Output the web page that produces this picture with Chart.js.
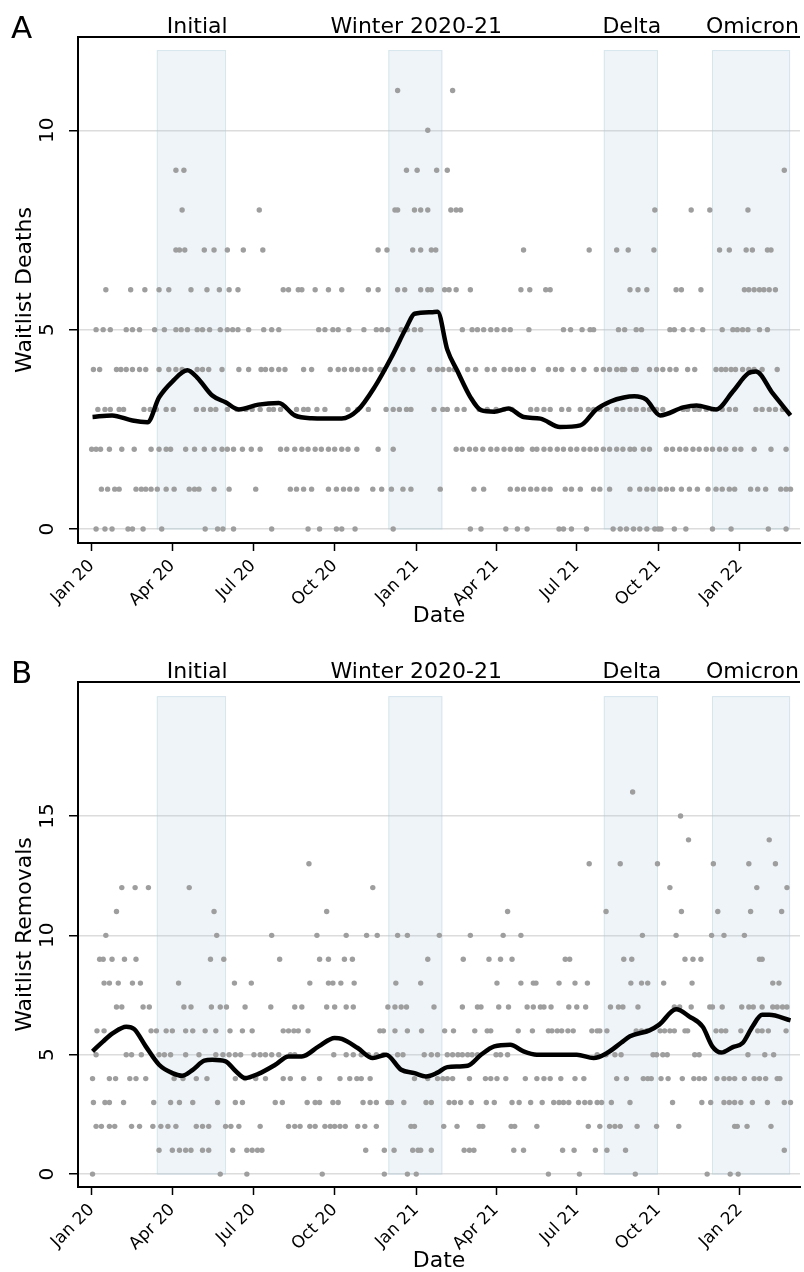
<!DOCTYPE html>
<html lang="en">
<head>
<meta charset="UTF-8">
<title>Waitlist deaths and removals</title>
<script src="https://cdn.jsdelivr.net/npm/chart.js"></script>
<style>
  body { margin: 0; background: #fff; }
  canvas { display: block; }
</style>
</head>
<body>
<canvas id="deathsChart" width="804" height="636"></canvas>
<canvas id="removalsChart" width="804" height="636"></canvas>
<script>
// days are counted from 1 Jan 2020
const tickDays = [0, 91, 182, 274, 366, 456, 547, 639, 731];
const tickLabels = ['Jan 20', 'Apr 20', 'Jul 20', 'Oct 20', 'Jan 21', 'Apr 21', 'Jul 21', 'Oct 21', 'Jan 22'];

const waveNames = ['Initial', 'Winter 2020-21', 'Delta', 'Omicron'];
const waveStart = [74, 335, 578, 700];
const waveEnd = [151, 395, 638, 787];
const waveLabelDay = [119, 366, 609, 745];

// daily waitlist deaths: one list of days per count (index = deaths that day)
const deathDays = [
  [5, 15, 23, 41, 46, 58, 79, 128, 142, 148, 160, 203, 244, 257, 276, 282, 297, 340, 427, 439, 467, 480, 491, 527, 532, 541, 558, 588, 596, 603, 611, 618, 626, 635, 639, 642, 657, 670, 700, 721, 763, 783],
  [11, 18, 26, 31, 50, 56, 61, 67, 74, 84, 93, 110, 116, 121, 138, 155, 185, 224, 231, 239, 248, 267, 276, 284, 291, 299, 317, 327, 338, 351, 360, 393, 431, 442, 472, 480, 487, 495, 502, 510, 517, 534, 541, 551, 566, 573, 584, 607, 618, 626, 633, 641, 648, 655, 665, 674, 683, 695, 704, 711, 719, 725, 743, 751, 760, 777, 783, 788],
  [0, 5, 10, 20, 34, 48, 67, 76, 84, 89, 106, 116, 127, 138, 147, 153, 160, 170, 180, 190, 213, 220, 229, 237, 244, 252, 259, 267, 274, 282, 289, 299, 323, 340, 411, 418, 426, 433, 441, 450, 457, 465, 472, 480, 485, 497, 502, 510, 517, 525, 532, 540, 547, 555, 562, 569, 577, 584, 592, 599, 607, 612, 622, 629, 648, 655, 663, 670, 678, 685, 693, 700, 708, 715, 725, 732, 747, 766, 783],
  [7, 15, 21, 31, 36, 59, 66, 73, 84, 92, 118, 126, 134, 140, 153, 164, 174, 181, 190, 200, 205, 213, 231, 239, 244, 254, 263, 289, 300, 312, 332, 340, 347, 355, 360, 386, 396, 401, 412, 420, 437, 446, 456, 465, 474, 495, 502, 510, 517, 530, 538, 551, 560, 566, 573, 581, 592, 599, 607, 614, 622, 629, 637, 644, 667, 672, 680, 685, 693, 700, 711, 719, 726, 749, 756, 764, 771, 779],
  [2, 9, 28, 33, 39, 46, 54, 61, 76, 87, 95, 102, 119, 125, 132, 147, 166, 177, 191, 196, 203, 211, 218, 239, 248, 269, 278, 285, 293, 300, 308, 315, 325, 330, 342, 351, 362, 381, 390, 396, 403, 409, 424, 433, 446, 454, 465, 472, 480, 487, 498, 515, 523, 530, 543, 555, 569, 577, 584, 592, 598, 601, 611, 614, 629, 637, 644, 652, 659, 672, 680, 704, 710, 715, 721, 726, 734, 741, 747, 756, 773],
  [5, 13, 21, 39, 46, 54, 71, 82, 95, 101, 108, 119, 125, 133, 145, 153, 159, 165, 177, 194, 203, 211, 256, 263, 272, 278, 290, 307, 321, 327, 334, 349, 356, 364, 371, 418, 429, 435, 442, 450, 457, 465, 472, 493, 532, 540, 553, 562, 566, 594, 601, 614, 620, 652, 657, 667, 677, 689, 711, 723, 728, 734, 740, 753, 762],
  [16, 44, 60, 76, 87, 112, 130, 144, 155, 165, 216, 222, 233, 237, 252, 267, 282, 312, 323, 345, 353, 371, 379, 383, 398, 403, 411, 427, 484, 494, 512, 517, 607, 616, 626, 659, 665, 687, 736, 741, 747, 753, 758, 764, 771],
  [95, 99, 105, 127, 138, 153, 171, 193, 323, 333, 362, 371, 383, 388, 487, 561, 592, 605, 634, 708, 719, 738, 745, 762, 766],
  [102, 189, 342, 345, 364, 371, 379, 405, 411, 416, 635, 676, 697, 740],
  [95, 104, 355, 367, 389, 401, 781],
  [379],
  [345, 407]
];
const deathTrendDays = [1, 23, 46, 63, 76, 91, 108, 119, 136, 151, 166, 188, 211, 229, 248, 282, 300, 319, 338, 355, 364, 383, 390, 401, 412, 427, 439, 454, 470, 487, 506, 528, 551, 569, 585, 600, 612, 625, 641, 667, 682, 704, 723, 740, 749, 768, 788];
const deathTrend = [2.81, 2.85, 2.72, 2.68, 3.3, 3.7, 3.98, 3.8, 3.35, 3.18, 3.0, 3.12, 3.16, 2.85, 2.78, 2.77, 2.98, 3.56, 4.31, 5.06, 5.4, 5.44, 5.45, 4.5, 3.98, 3.31, 2.98, 2.94, 3.02, 2.81, 2.77, 2.56, 2.6, 3.0, 3.2, 3.3, 3.33, 3.25, 2.85, 3.05, 3.1, 3.0, 3.45, 3.9, 3.95, 3.4, 2.85];

// daily waitlist removals: one list of days per count
const removalDays = [
  [1, 145, 175, 260, 330, 356, 366, 515, 550, 613, 694, 720, 729],
  [76, 91, 99, 106, 112, 125, 132, 159, 175, 181, 187, 192, 309, 330, 341, 362, 368, 371, 383, 420, 426, 431, 476, 487, 531, 544, 568, 581, 602, 781],
  [5, 11, 20, 26, 45, 54, 69, 78, 86, 95, 118, 125, 132, 151, 157, 166, 190, 222, 229, 235, 246, 252, 263, 269, 274, 280, 286, 300, 308, 321, 360, 364, 397, 412, 437, 441, 473, 477, 502, 560, 573, 584, 590, 596, 615, 637, 662, 725, 728, 739, 766],
  [2, 15, 20, 36, 70, 89, 99, 114, 142, 162, 170, 207, 215, 243, 252, 257, 272, 278, 306, 314, 321, 334, 338, 352, 377, 383, 403, 409, 416, 428, 445, 454, 474, 482, 495, 508, 521, 527, 532, 538, 549, 556, 562, 570, 575, 586, 607, 655, 688, 698, 713, 719, 725, 732, 745, 762, 781, 788],
  [1, 20, 27, 43, 50, 61, 93, 103, 118, 130, 162, 173, 185, 196, 216, 224, 239, 257, 280, 291, 299, 304, 314, 364, 379, 390, 396, 401, 407, 426, 444, 450, 457, 467, 489, 502, 510, 517, 529, 545, 555, 592, 603, 622, 627, 631, 642, 650, 666, 679, 685, 691, 705, 713, 719, 725, 736, 747, 753, 760, 773, 776],
  [5, 39, 45, 56, 76, 82, 89, 106, 121, 140, 148, 155, 162, 168, 183, 190, 196, 203, 211, 224, 229, 273, 287, 295, 304, 312, 321, 329, 345, 351, 375, 383, 390, 401, 407, 413, 418, 424, 429, 435, 456, 461, 469, 570, 580, 590, 597, 633, 637, 644, 649, 680, 685, 740, 759, 769],
  [6, 14, 67, 73, 84, 91, 106, 114, 128, 140, 156, 170, 181, 216, 222, 228, 233, 244, 325, 329, 342, 356, 372, 398, 408, 432, 446, 450, 481, 497, 515, 519, 525, 530, 537, 543, 564, 570, 573, 581, 614, 620, 626, 641, 646, 652, 657, 669, 672, 704, 710, 715, 732, 751, 756, 763, 783],
  [28, 34, 58, 65, 104, 112, 135, 145, 152, 173, 202, 229, 237, 265, 274, 287, 295, 334, 342, 349, 355, 386, 418, 435, 439, 459, 470, 491, 498, 506, 510, 518, 538, 547, 557, 585, 594, 599, 616, 657, 663, 676, 697, 700, 711, 733, 741, 746, 756, 768, 773, 779, 784],
  [14, 20, 30, 46, 55, 98, 161, 180, 246, 267, 272, 281, 296, 343, 371, 457, 484, 498, 501, 527, 545, 559, 608, 620, 627, 645, 677, 768, 775],
  [9, 13, 23, 37, 50, 134, 149, 212, 257, 267, 285, 294, 379, 419, 448, 461, 474, 534, 539, 600, 609, 669, 678, 687, 753, 756],
  [16, 141, 203, 254, 287, 310, 322, 345, 356, 392, 427, 464, 484, 621, 659, 699, 713, 736],
  [28, 138, 265, 469, 580, 665, 706, 743, 778],
  [34, 49, 64, 110, 317, 652, 750, 784],
  [245, 561, 596, 638, 701, 741, 771],
  [673, 764],
  [664],
  [610]
];
const removalTrendDays = [1, 13, 24, 39, 48, 61, 76, 91, 102, 114, 127, 136, 151, 162, 173, 188, 207, 222, 237, 256, 274, 282, 300, 317, 332, 349, 364, 377, 390, 401, 424, 439, 454, 472, 487, 502, 525, 547, 566, 581, 597, 607, 629, 640, 659, 674, 689, 700, 710, 723, 734, 745, 756, 764, 788];
const removalTrend = [5.14, 5.56, 5.9, 6.17, 6.07, 5.35, 4.58, 4.23, 4.12, 4.37, 4.75, 4.79, 4.72, 4.33, 4.02, 4.2, 4.58, 4.93, 4.93, 5.35, 5.7, 5.66, 5.28, 4.86, 5.0, 4.37, 4.23, 4.09, 4.25, 4.48, 4.54, 5.0, 5.35, 5.42, 5.14, 5.0, 5.0, 5.0, 4.86, 5.07, 5.5, 5.77, 6.02, 6.26, 6.9, 6.6, 6.17, 5.34, 5.09, 5.32, 5.49, 6.17, 6.67, 6.67, 6.44];

const font = '"DejaVu Sans", sans-serif';
Chart.defaults.color = '#000';
Chart.defaults.font.family = font;

function toPoints(rows) {
  const pts = [];
  rows.forEach((days, count) => days.forEach(d => pts.push({x: d, y: count})));
  return pts;
}

// shaded waves, framed top edge, turned y labels, wave names and panel letter
const decor = {
  id: 'decor',
  beforeDatasetsDraw(chart, args, opts) {
    const {ctx, scales: {x, y}} = chart;
    ctx.save();
    for (let i = 0; i < waveNames.length; i++) {
      const x0 = x.getPixelForValue(waveStart[i]);
      const x1 = x.getPixelForValue(waveEnd[i]);
      const y0 = y.getPixelForValue(0);
      const y1 = y.getPixelForValue(opts.shadeTop);
      ctx.fillStyle = 'rgba(176, 204, 220, 0.22)';
      ctx.fillRect(x0, y1, x1 - x0, y0 - y1);
      ctx.strokeStyle = 'rgba(176, 204, 220, 0.45)';
      ctx.lineWidth = 1;
      ctx.strokeRect(x0, y1, x1 - x0, y0 - y1);
    }
    ctx.restore();
  },
  afterDraw(chart, args, opts) {
    const {ctx, chartArea: a, scales: {x, y}} = chart;
    ctx.save();
    ctx.strokeStyle = '#000';
    ctx.lineWidth = 2;
    ctx.beginPath();
    ctx.moveTo(a.left - 1, a.top);
    ctx.lineTo(a.right, a.top);
    ctx.stroke();

    ctx.fillStyle = '#000';
    ctx.font = '20px ' + font;
    ctx.textAlign = 'center';
    ctx.textBaseline = 'middle';
    opts.yTicks.forEach(v => {
      ctx.save();
      ctx.translate(48, y.getPixelForValue(v));
      ctx.rotate(-Math.PI / 2);
      ctx.fillText(String(v), 0, 0);
      ctx.restore();
    });

    ctx.font = '22px ' + font;
    ctx.textBaseline = 'alphabetic';
    waveNames.forEach((name, i) => {
      ctx.fillText(name, x.getPixelForValue(waveLabelDay[i]), a.top - 4);
    });

    ctx.font = '31px ' + font;
    ctx.textAlign = 'left';
    ctx.fillText(opts.letter, 11, a.top + 1);
    ctx.restore();
  }
};

function makePanel(id, o) {
  new Chart(document.getElementById(id), {
    type: 'scatter',
    data: {
      datasets: [{
        data: o.trendDays.map((d, i) => ({x: d, y: o.trend[i]})),
        showLine: true,
        borderColor: '#000',
        borderWidth: 4.5,
        pointRadius: 0,
        cubicInterpolationMode: 'monotone',
        order: 0
      }, {
        data: toPoints(o.rows),
        backgroundColor: '#9e9e9e',
        borderWidth: 0,
        pointRadius: 2.7,
        order: 1
      }]
    },
    options: {
      responsive: false,
      animation: false,
      layout: {padding: {top: o.top, left: 0, right: 0, bottom: 0}},
      plugins: {
        legend: {display: false},
        tooltip: {enabled: false},
        decor: {letter: o.letter, shadeTop: o.shadeTop, yTicks: o.yTicks}
      },
      scales: {
        x: {
          type: 'linear',
          min: -15.4,
          max: 798.7,
          afterBuildTicks: s => { s.ticks = tickDays.map(v => ({value: v})); },
          afterFit: s => { s.height = o.axisHeight; },
          ticks: {
            autoSkip: false,
            minRotation: 45,
            maxRotation: 45,
            padding: 5,
            font: {size: 17},
            callback: v => tickLabels[tickDays.indexOf(v)]
          },
          grid: {drawOnChartArea: false, tickColor: '#000', tickLength: 8, tickWidth: 1.5},
          border: {color: '#000', width: 2},
          title: {display: true, text: 'Date', font: {size: 22, lineHeight: 1}, padding: {top: 0, bottom: o.titlePad}}
        },
        y: {
          min: o.yMin,
          max: o.yMax,
          afterBuildTicks: s => { s.ticks = o.yTicks.map(v => ({value: v})); },
          afterFit: s => { s.width = 78; },
          ticks: {display: false},
          grid: {color: '#dcdcdc', lineWidth: 1.5, tickColor: '#000', tickLength: 9, tickWidth: 1.5},
          border: {color: '#000', width: 2},
          title: {display: true, text: o.yTitle, font: {size: 22}, padding: {top: 12, bottom: 0}}
        }
      }
    },
    plugins: [decor]
  });
}

makePanel('deathsChart', {
  rows: deathDays, trendDays: deathTrendDays, trend: deathTrend,
  letter: 'A', yTitle: 'Waitlist Deaths', yMin: -0.35, yMax: 12.34, yTicks: [0, 5, 10], shadeTop: 12,
  top: 37, axisHeight: 93, titlePad: 9
});
makePanel('removalsChart', {
  rows: removalDays, trendDays: removalTrendDays, trend: removalTrend,
  letter: 'B', yTitle: 'Waitlist Removals', yMin: -0.54, yMax: 20.61, yTicks: [0, 5, 10, 15], shadeTop: 20,
  top: 46, axisHeight: 85, titlePad: 0
});
</script>
</body>
</html>
